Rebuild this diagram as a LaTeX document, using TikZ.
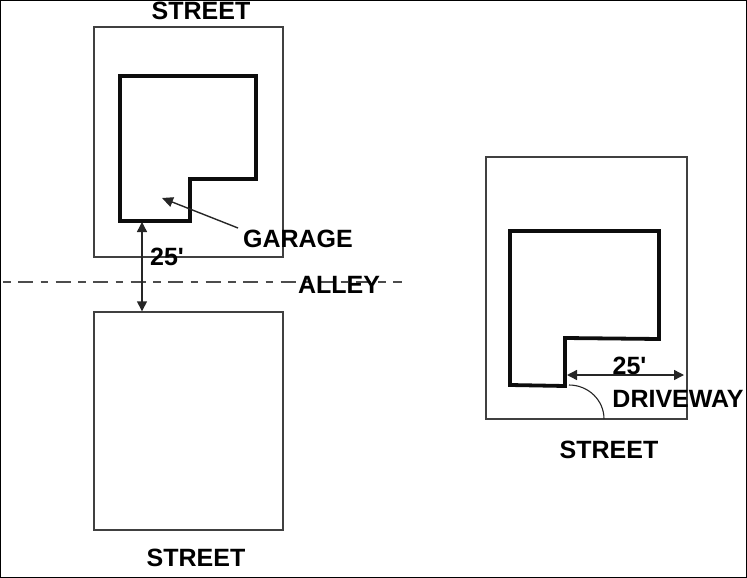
\documentclass[tikz,border=0pt]{standalone}
\usepackage{fontspec}
\setmainfont{Liberation Sans}
\usetikzlibrary{arrows.meta, positioning}

\begin{document}
\begin{tikzpicture}[
	x=1pt, y=-1pt,
	font=\fontsize{25}{29}\selectfont\bfseries,
	lotline/.style={draw=black!75, line width=1.4pt},
	house/.style={draw=black!95, line width=3.8pt, line join=miter},
	label/.style={inner sep=0pt, text=black, anchor=center},
	dim/.style={{Triangle[length=10pt,width=10pt]}-{Triangle[length=10pt,width=10pt]}, draw=black!85, line width=1.4pt},
	pointer/.style={-{Triangle[length=11pt,width=10pt]}, draw=black!85, line width=1.4pt}
	]
	\useasboundingbox (0,0) rectangle (747,578);
	\draw[black, line width=1.5pt] (0.7,0.7) rectangle (746.3,577.3);

	% Left lots
	\node[lotline, minimum width=189pt, minimum height=230pt, inner sep=0pt] (lot_top) at (188.5,142) {};
	\node[lotline, minimum width=189pt, minimum height=218pt, inner sep=0pt] (lot_bottom) at (188.5,421) {};
	\draw[house] (120,76) -- (256,76) -- (256,179) -- (190,179) -- (190,221) -- (120,221) -- cycle;

	% Alley
	\coordinate (alley_l) at (0,282);
	\coordinate (alley_r) at (402,282);
	\draw[draw=black!70, line width=1.5pt, dash pattern=on 15pt off 7.5pt on 7.5pt off 7.5pt, dash phase=19.5pt] (alley_l) -- (alley_r);

	% Labels on the left
	\node[label] (street_top) at (201,11) {STREET};
	\node[label] (street_bottom) at (196,558) {STREET};
	\node[label] (garage) at (298,239) {GARAGE};
	\node[label] (alley) at (339,285) {ALLEY};
	\node[label] (dist_left) at (167,257) {25\textquotesingle};

	% Arrows on the left
	\coordinate (garage_wall) at (142,222);
	\coordinate (garage_tail) at (238,228);
	\coordinate (garage_tip) at (162,198);
	\draw[dim] (garage_wall) -- (lot_bottom.north -| garage_wall);
	\draw[pointer] (garage_tail) -- (garage_tip);

	% Right lot
	\node[lotline, minimum width=201pt, minimum height=262pt, inner sep=0pt] (lot_right) at (586.5,288) {};
	\draw[house] (510,231) -- (659,231) -- (659,339) -- (565,338) -- (565,386) -- (510,385) -- cycle;

	% Driveway
	\coordinate (drive_wall) at (567,375);
	\coordinate (drive_stop) at (684,375);
	\coordinate (drive_start) at (569,385);
	\coordinate (drive_end) at (604,419);
	\draw[dim] (drive_wall) -- (drive_stop);
	\draw[draw=black!85, line width=1.1pt] (drive_start) to[out=0, in=90] (drive_end);

	% Labels on the right
	\node[label] (dist_right) at (629.5,366) {25\textquotesingle};
	\node[label] (driveway) at (678,399) {DRIVEWAY};
	\node[label] (street_right) at (609,450) {STREET};
\end{tikzpicture}
\end{document}
